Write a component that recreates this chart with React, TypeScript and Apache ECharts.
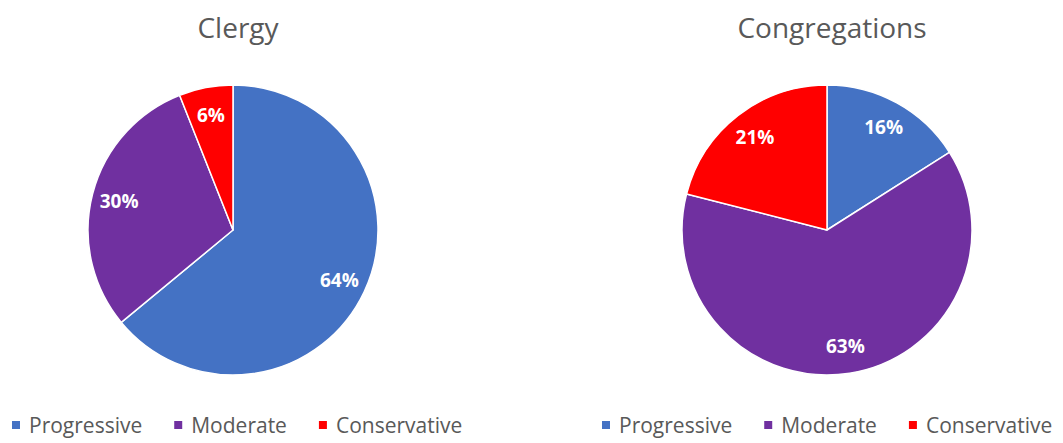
import React, { useEffect, useRef } from "react";
import * as echarts from "echarts";

const categories = ["Progressive", "Moderate", "Conservative"];
const colors = ["#4472C4", "#7030A0", "#FF0000"];
const clergyValues = [64, 30, 6];
const congregationValues = [16, 63, 21];
const chartTitles = ["Clergy", "Congregations"];

const FONT = "'Open Sans', 'Noto Sans', sans-serif";

export default function App() {
  const ref = useRef<HTMLDivElement>(null);
  useEffect(() => {
    document.body.style.margin = "0";
    const chart = echarts.init(ref.current!, null, { renderer: "svg" });
    const centersX = [233, 827];
    const legendLeft = [10, 600];
    const datasets = [clergyValues, congregationValues];
    const R = 145;
    const series: any[] = [];
    datasets.forEach((vals, i) => {
      const data = categories.map((c, k) => ({
        name: c,
        value: vals[k],
        itemStyle: { color: colors[k] },
      }));
      series.push({
        type: "pie",
        center: [centersX[i], 230],
        radius: [0, R],
        startAngle: 90,
        clockwise: true,
        label: { show: false },
        labelLine: { show: false },
        itemStyle: { borderColor: "#ffffff", borderWidth: 1.5 },
        emphasis: { disabled: true },
        data,
      });
      series.push({
        type: "pie",
        center: [centersX[i], 230],
        radius: [0, R * 1.58],
        startAngle: 90,
        clockwise: true,
        silent: true,
        legendHoverLink: false,
        itemStyle: { color: "rgba(0,0,0,0)", borderWidth: 0 },
        label: {
          show: true,
          position: "inside",
          formatter: "{c}%",
          color: "#ffffff",
          fontWeight: "bold",
          fontSize: 19,
          fontFamily: FONT,
        },
        labelLine: { show: false },
        emphasis: { disabled: true },
        data: categories.map((c, k) => ({ name: c, value: vals[k] })),
      });
    });
    chart.setOption({
      animation: false,
      backgroundColor: "#ffffff",
      title: chartTitles.map((t, i) => ({
        text: t,
        left: centersX[i],
        top: 8,
        textAlign: "center",
        textStyle: {
          color: "#595959",
          fontSize: 28,
          fontWeight: "normal",
          fontFamily: FONT,
        },
      })),
      legend: [0, 1].map((i) => ({
        left: legendLeft[i],
        top: 414,
        padding: 0,
        width: 460,
        icon: "rect",
        itemWidth: 10,
        itemHeight: 10,
        itemGap: 30,
        selectedMode: false,
        data: categories.map((c, k) => ({ name: c, itemStyle: { color: colors[k] } })),
        textStyle: {
          color: "#595959",
          fontSize: 21,
          lineHeight: 22,
          fontFamily: FONT,
          padding: [0, 0, 0, 3],
        },
      })),
      series,
    });
    return () => chart.dispose();
  }, []);
  return <div ref={ref} style={{ width: 1063, height: 443 }} />;
}
